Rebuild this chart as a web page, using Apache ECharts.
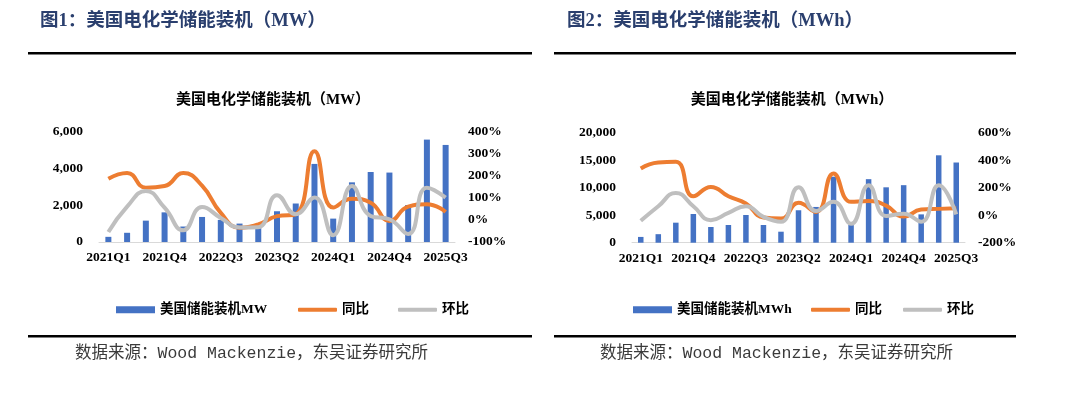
<!DOCTYPE html>
<html>
<head>
<meta charset="utf-8">
<script src="https://cdn.jsdelivr.net/npm/echarts@6/dist/echarts.min.js"></script>
<style>
html,body{margin:0;padding:0;background:#fff;}
#c1,#c2{position:absolute;top:0;width:540px;height:395px;}
#c1{left:0;} #c2{left:540px;}
</style>
</head>
<body>
<div id="c1"></div>
<div id="c2"></div>
<script>
const categories = ['2021Q1','2021Q2','2021Q3','2021Q4','2022Q1','2022Q2','2022Q3','2022Q4','2023Q1','2023Q2','2023Q3','2023Q4','2024Q1','2024Q2','2024Q3','2024Q4','2025Q1','2025Q2','2025Q3'];

// Figure 1: MW
const mwInstall = [280, 500, 1160, 1610, 840, 1360, 1200, 1000, 800, 1670, 2090, 4240, 1270, 3240, 3800, 3770, 2010, 5560, 5270];
const mwYoY = [186, 212, 146, 153, 212, 155, 32, -35, -20, 17, 26, 311, 56, 96, 78, -5, 60, 71, 36];
const mwQoQ = [-55, 60, 131, 55, -47, 58, 9, -34, -33, 112, 26, 101, -69, 153, 18, 3, -64, 146, 101];

// Figure 2: MWh
const mwhInstall = [1050, 1550, 3640, 5220, 2850, 3220, 5040, 3220, 2000, 5900, 6500, 12000, 3220, 11550, 10070, 10460, 5150, 15890, 14580];
const mwhYoY = [340, 383, 388, 138, 206, 138, 85, -17, -24, 90, 24, 303, 97, 104, 70, -10, 41, 46, 50];
const mwhQoQ = [-41, 65, 162, 65, -36, 17, 65, -12, -48, 203, 30, 97, -63, 218, -6, 10, -48, 218, 6];

const legendNames1 = ['美国储能装机MW', '同比', '环比'];
const legendNames2 = ['美国储能装机MWh', '同比', '环比'];

const BLUE = '#4472C4', ORANGE = '#ED7D31', GRAY = '#BFBFBF';
const SERIF = '"Liberation Serif", "Noto Sans CJK SC", serif';

function build(cfg) {
  const labelStyle = {color: '#000', fontWeight: 'bold', fontFamily: SERIF, fontSize: 13.5};
  return {
    backgroundColor: '#fff',
    animation: false,
    title: {
      text: cfg.title, left: cfg.titleX, textAlign: 'center', top: 88,
      textStyle: {fontSize: 15, fontWeight: 'bold', color: '#000', fontFamily: SERIF}
    },
    legend: cfg.names.map((n, i) => ({
      data: [n], left: cfg.legendX[i], top: 298,
      itemWidth: 39, itemHeight: i === 0 ? 7 : 4, icon: i === 0 ? 'rect' : 'roundRect',
      textStyle: {color: '#000', fontWeight: 'bold', fontFamily: SERIF, fontSize: 13.5},
      selectedMode: false
    })),
    grid: cfg.grid,
    xAxis: {
      type: 'category', data: categories,
      axisLine: {lineStyle: {color: '#D9D9D9', width: 1}},
      axisTick: {show: false},
      axisLabel: Object.assign({interval: 2, margin: 9}, labelStyle)
    },
    yAxis: [
      {type: 'value', min: 0, max: cfg.leftMax, interval: cfg.leftInterval,
       splitLine: {show: false}, axisLine: {show: false}, axisTick: {show: false},
       axisLabel: Object.assign({margin: 16, formatter: v => v.toLocaleString('en-US')}, labelStyle)},
      {type: 'value', min: cfg.rightMin, max: cfg.rightMax, interval: cfg.rightInterval,
       splitLine: {show: false}, axisLine: {show: false}, axisTick: {show: false},
       axisLabel: Object.assign({margin: 13, formatter: '{value}%'}, labelStyle)}
    ],
    series: [
      {name: cfg.names[0], type: 'bar', data: cfg.bars, barWidth: cfg.barWidth,
       itemStyle: {color: BLUE}},
      {name: cfg.names[1], type: 'line', yAxisIndex: 1, data: cfg.yoy, smooth: true,
       symbol: 'none', lineStyle: {color: ORANGE, width: 4}, itemStyle: {color: ORANGE}},
      {name: cfg.names[2], type: 'line', yAxisIndex: 1, data: cfg.qoq, smooth: true,
       symbol: 'none', lineStyle: {color: GRAY, width: 4}, itemStyle: {color: GRAY}}
    ],
    graphic: [
      {type: 'text', x: cfg.headerX, y: 21,
       style: {text: cfg.header, font: 'bold 18.5px "Liberation Serif", "Noto Sans CJK SC"', fill: '#2A3F6E',
               verticalAlign: 'middle', textVerticalAlign: 'middle'}},
      {type: 'rect', shape: {x: cfg.ruleX, y: 52, width: cfg.ruleW, height: 2.4}, style: {fill: '#000'}},
      {type: 'rect', shape: {x: cfg.ruleX, y: 335, width: cfg.ruleW, height: 2.4}, style: {fill: '#000'}},
      {type: 'text', x: cfg.footerX, y: 354,
       style: {text: '数据来源：Wood Mackenzie，东吴证券研究所', font: '16.5px "Liberation Mono", "Noto Sans CJK SC"', fill: '#3a3a3a',
               verticalAlign: 'middle', textVerticalAlign: 'middle'}}
    ]
  };
}

const chart1 = echarts.init(document.getElementById('c1'), null, {renderer: 'canvas'});
chart1.setOption(build({
  header: '图1：美国电化学储能装机（MW）', headerX: 40,
  ruleX: 28, ruleW: 504,
  title: '美国电化学储能装机（MW）', titleX: 268,
  grid: {left: 99, top: 131.5, width: 356, height: 110.5},
  names: legendNames1, bars: mwInstall, yoy: mwYoY, qoq: mwQoQ,
  leftMax: 6000, leftInterval: 2000, rightMin: -100, rightMax: 400, rightInterval: 100,
  legendX: [111, 293, 393], footerX: 75, barWidth: 6
}));

const chart2 = echarts.init(document.getElementById('c2'), null, {renderer: 'canvas'});
chart2.setOption(build({
  header: '图2：美国电化学储能装机（MWh）', headerX: 27,
  ruleX: 14, ruleW: 462,
  title: '美国电化学储能装机（MWh）', titleX: 247,
  grid: {left: 92, top: 132.7, width: 333, height: 110},
  names: legendNames2, bars: mwhInstall, yoy: mwhYoY, qoq: mwhQoQ,
  leftMax: 20000, leftInterval: 5000, rightMin: -200, rightMax: 600, rightInterval: 200,
  legendX: [88, 266, 358], footerX: 60, barWidth: 5.5
}));
</script>
</body>
</html>
